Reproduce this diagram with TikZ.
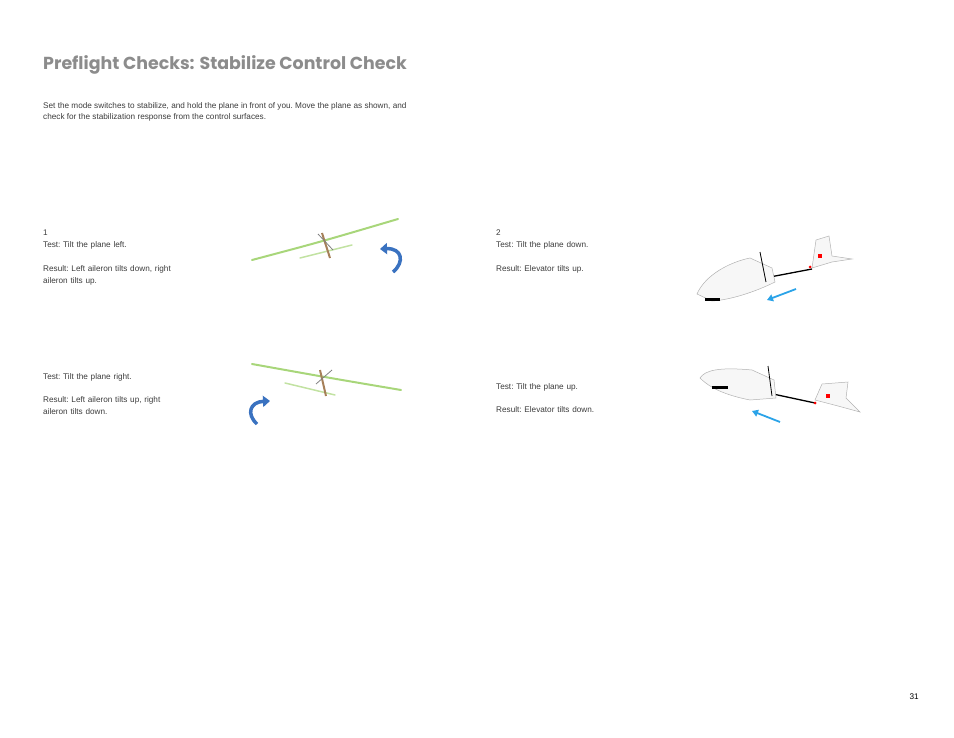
\documentclass[tikz,border=0pt]{standalone}
\usepackage{fontspec}
\setmainfont{Liberation Sans}
\newfontfamily\headfont{Poppins}
\usetikzlibrary{arrows.meta}
\definecolor{headgray}{HTML}{8C8C8C}
\definecolor{txtgray}{HTML}{3C3C3C}
\definecolor{turnblue}{HTML}{3A72C0}
\definecolor{moveblue}{HTML}{2BA3E8}
\definecolor{wingreen}{HTML}{A8D67A}
\newcommand{\bodytext}{\fontsize{8.2}{11.8}\selectfont\frenchspacing\hyphenpenalty=10000\exhyphenpenalty=10000}
\tikzset{
  para/.style={anchor=north west, inner sep=0pt, align=left, text=txtgray, font=\bodytext},
  wing/.style={wingreen, line width=2pt, line cap=round},
  hull/.style={draw=gray!60, fill=gray!6, line width=0.5pt},
  boom/.style={black, line width=1.3pt},
}
\begin{document}
\begin{tikzpicture}[x=1pt,y=-1pt]
\useasboundingbox (0,0) rectangle (954,738);
%\draw [help lines] (0,0) grid[step=50] (954,738);
\node [anchor=west, inner sep=0pt, text=headgray, font=\headfont\fontsize{17.4}{22}\selectfont\bfseries] (title) at (43,65) {Preflight Checks: Stabilize Control Check};
\node [para] (intro) at (43,102) {Set the mode switches to stabilize, and hold the plane in front of you. Move the plane as shown, and\\check for the stabilization response from the control surfaces.};
\node [para, text width=150] (left1) at (43,230) {1\\Test: Tilt the plane left.\\[11.8pt]Result: Left aileron tilts down, right aileron tilts up.};
\node [para, text width=140] (right1) at (43,373) {Test: Tilt the plane right.\\[11.8pt]Result: Left aileron tilts up, right aileron tilts down.};
\node [para, text width=160] (down2) at (496,230) {2\\Test: Tilt the plane down.\\[11.8pt]Result: Elevator tilts up.};
\node [para, text width=160] (up2) at (496,383) {Test: Tilt the plane up.\\[11.8pt]Result: Elevator tilts down.};
\node [anchor=east, inner sep=0pt, font=\fontsize{8.2}{9}\selectfont] (page) at (919,697) {31};
% plane tilted left
\draw [wing] (252,260) .. controls (320,242) .. (398,219);
\draw [wing, line width=1.5pt, wingreen!70] (300,258) -- (352,245);
\draw [gray!70!orange, line width=2pt] (322,233) -- (330,258);
\draw [gray, line width=0.8pt] (318,234) -- (333,250);
\coordinate (ccwstart) at (393,272);
\coordinate (ccwend) at (380,249);
\draw [turnblue, line width=3.5pt, -{Triangle[length=7pt,width=11pt]}] (ccwstart) .. controls (405,262) and (402,248) .. (ccwend);
% plane tilted right
\draw [wing] (252,364) .. controls (330,378) .. (401,390);
\draw [wing, line width=1.5pt, wingreen!70] (285,383) -- (335,395);
\draw [gray!70!orange, line width=2pt] (320,370) -- (326,396);
\draw [gray, line width=0.8pt] (316,384) -- (332,370);
\coordinate (cwstart) at (257,424);
\coordinate (cwend) at (270,401);
\draw [turnblue, line width=3.5pt, -{Triangle[length=7pt,width=11pt]}] (cwstart) .. controls (246,414) and (250,402) .. (cwend);
% plane nose down
\draw [boom] (770,277) -- (812,269);
\filldraw [hull] (697,294) .. controls (705,275) and (730,262) .. (750,258) -- (772,268) -- (775,282) .. controls (755,292) and (730,300) .. (712,301) -- cycle;
\fill [black] (705,298) rectangle (720,301);
\draw [black, line width=0.8pt] (760,252) -- (766,282);
\filldraw [hull] (812,268) -- (816,240) -- (829,236) -- (832,256) -- (852,259) -- (832,262) -- cycle;
\fill [red] (818,254) rectangle (822,258);
\fill [red] (810,267) circle (1.5pt);
\coordinate (dnstart) at (796,289);
\coordinate (dnend) at (767,300);
\draw [moveblue, line width=1.8pt, -{Triangle[length=6pt,width=7pt]}] (dnstart) -- (dnend);
% plane nose up
\draw [boom] (773,394) -- (815,403);
\filldraw [hull] (700,378) .. controls (705,370) and (720,367) .. (752,370) -- (774,380) -- (776,398) -- (750,400) .. controls (730,396) and (712,390) .. (700,378) -- cycle;
\fill [black] (712,386) rectangle (728,389);
\draw [black, line width=0.8pt] (768,366) -- (772,396);
\filldraw [hull] (815,400) -- (822,384) -- (848,382) -- (846,398) -- (860,412) -- (838,406) -- cycle;
\fill [red] (826,394) rectangle (830,398);
\fill [red] (815,403) circle (1.5pt);
\coordinate (upstart) at (780,422);
\coordinate (upend) at (752,411);
\draw [moveblue, line width=1.8pt, -{Triangle[length=6pt,width=7pt]}] (upstart) -- (upend);
\end{tikzpicture}
\end{document}
